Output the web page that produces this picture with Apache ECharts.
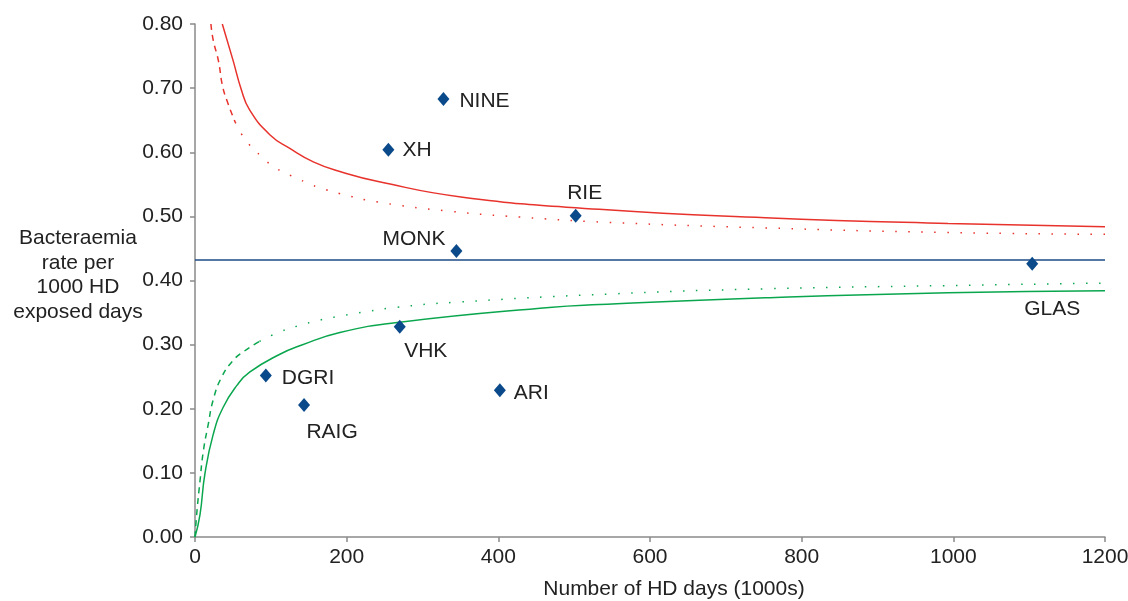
<!DOCTYPE html>
<html>
<head>
<meta charset="utf-8">
<script src="https://cdn.jsdelivr.net/npm/echarts@6/dist/echarts.min.js"></script>
<style>
  html, body { margin: 0; padding: 0; background: #fff; overflow: hidden; }
  #chart { width: 1128px; height: 601px; }
</style>
</head>
<body>
<div id="chart"></div>
<script>
// Renal units: HD days (1000s) and bacteraemia rate per 1000 HD exposed days
const siteNames = ['NINE', 'XH', 'RIE', 'MONK', 'GLAS', 'VHK', 'DGRI', 'RAIG', 'ARI'];
const siteDays  = [327.6, 255, 502, 344.7, 1104, 270, 93.4, 143.8, 402];
const siteRates = [0.683, 0.604, 0.501, 0.446, 0.426, 0.328, 0.252, 0.206, 0.229];

// Overall mean rate
const meanRate = 0.432;
const meanSpan = [0, 1200];

// Control limits read as [days, rate] pairs
const upper998 = [[36,0.80],[50,0.744],[61,0.698],[72,0.666],[99,0.627],[125,0.606],[156,0.585],[191,0.570],[243,0.554],[353,0.530],[533,0.511],[752,0.498],[993,0.489],[1200,0.484]];
const upper95Dashed = [[21,0.80],[24,0.775],[31,0.742],[36,0.705],[42,0.681],[53,0.647]];
const upper95Dotted = [[53,0.647],[61,0.629],[70,0.614],[88,0.593],[103,0.578],[120,0.567],[137,0.558],[154,0.549],[172,0.542],[189,0.536],[243,0.522],[336,0.508],[428,0.499],[539,0.491],[752,0.482],[985,0.475],[1200,0.472]];
const lower998 = [[0,0],[6.6,0.035],[13,0.098],[24,0.160],[37,0.202],[55,0.236],[72,0.257],[112,0.285],[140,0.299],[191,0.319],[270,0.335],[467,0.358],[533,0.3625],[752,0.373],[993,0.381],[1200,0.384]];
const lower95Dashed = [[0,0],[2.2,0.035],[6.6,0.0875],[11,0.134],[17.5,0.176],[24,0.214],[35,0.249],[50,0.275],[64,0.289],[85,0.305]];
const lower95Dotted = [[85,0.305],[112,0.320],[138,0.330],[162,0.3375],[189,0.344],[213,0.349],[265,0.358],[342,0.366],[548,0.379],[752,0.387],[988,0.392],[1200,0.396]];

// Axis ticks
const xTicks = { min: 0, max: 1200, step: 200 };
const yTicks = { min: 0, max: 0.8, step: 0.1 };

// Where each site's name sits relative to its marker
const labelPlacement = {
  NINE: { position: 'right', distance: 10, offset: [0, 2] },
  XH:   { position: 'right', distance: 8, offset: [0, 1] },
  RIE:  { position: 'top', distance: 5, offset: [9, 0] },
  MONK: { position: 'left', distance: 5, offset: [0, -12] },
  GLAS: { position: 'bottom', distance: 28, offset: [20, 0] },
  VHK:  { position: 'bottom', distance: 7, offset: [26, 0] },
  DGRI: { position: 'right', distance: 10, offset: [0, 3] },
  RAIG: { position: 'bottom', distance: 10, offset: [28, 0] },
  ARI:  { position: 'right', distance: 8, offset: [0, 3] }
};

const FONT = '"Liberation Sans", Arial, Helvetica, sans-serif';
const FS = 21;
const TEXT = '#222222';
const RED = '#e8322c';
const GREEN = '#0aa64e';
const NAVY = '#0b4a8a';

const sitePoints = siteNames.map((name, i) => ({
  name: name,
  value: [siteDays[i], siteRates[i]],
  label: Object.assign({ show: true, color: TEXT, fontSize: FS, fontFamily: FONT }, labelPlacement[name])
}));

function curve(data, color, type, width) {
  return {
    type: 'line',
    data: data,
    symbol: 'none',
    smooth: true,
    silent: true,
    clip: true,
    lineStyle: { color: color, width: width, type: type, cap: 'butt' },
    z: 2
  };
}

const chart = echarts.init(document.getElementById('chart'), null, { renderer: 'canvas' });
chart.setOption({
  animation: false,
  backgroundColor: '#ffffff',
  textStyle: { fontFamily: FONT },
  grid: { left: 195, right: 23, top: 24, bottom: 64, containLabel: false, outerBoundsMode: 'none' },
  xAxis: {
    type: 'value',
    min: xTicks.min, max: xTicks.max, interval: xTicks.step,
    name: 'Number of HD days (1000s)',
    nameLocation: 'middle',
    nameGap: 42,
    nameTextStyle: { fontSize: FS, color: TEXT, fontFamily: FONT, padding: [0, 0, 0, 48] },
    axisLine: { lineStyle: { color: '#8a8a8a', width: 1.5 } },
    axisTick: { show: true, length: 5, lineStyle: { color: '#8a8a8a', width: 1.5 } },
    axisLabel: { fontSize: FS, color: TEXT, margin: 10, fontFamily: FONT,
                 formatter: v => String(v) },
    splitLine: { show: false }
  },
  yAxis: {
    type: 'value',
    min: yTicks.min, max: yTicks.max, interval: yTicks.step,
    axisLine: { show: true, lineStyle: { color: '#8a8a8a', width: 1.5 } },
    axisTick: { show: true, length: 5, lineStyle: { color: '#8a8a8a', width: 1.5 } },
    axisLabel: { fontSize: FS, color: TEXT, margin: 12, fontFamily: FONT,
                 formatter: v => v.toFixed(2) },
    splitLine: { show: false }
  },
  graphic: [{
    type: 'text',
    x: 78,
    y: 226,
    style: {
      text: 'Bacteraemia\nrate per\n1000 HD\nexposed days',
      align: 'center',
      verticalAlign: 'top',
      fontSize: FS,
      lineHeight: 24.5,
      fill: TEXT,
      fontFamily: FONT
    }
  }],
  series: [
    curve(upper998, RED, 'solid', 1.5),
    curve(upper95Dashed, RED, [6, 5], 1.5),
    curve(upper95Dotted, RED, [1.5, 11.5], 1.5),
    curve(lower998, GREEN, 'solid', 1.5),
    curve(lower95Dashed, GREEN, [6, 5], 1.5),
    curve(lower95Dotted, GREEN, [1.5, 11.5], 1.5),
    {
      type: 'line',
      data: meanSpan.map(x => [x, meanRate]),
      symbol: 'none',
      silent: true,
      lineStyle: { color: '#1d4a86', width: 1.5 },
      z: 3
    },
    {
      type: 'scatter',
      data: sitePoints,
      symbol: 'diamond',
      symbolSize: [12, 14],
      itemStyle: { color: NAVY, opacity: 1 },
      label: {
        show: true,
        formatter: p => p.name,
        fontSize: FS,
        color: TEXT,
        fontFamily: FONT
      },
      z: 5
    }
  ]
});
</script>
</body>
</html>
